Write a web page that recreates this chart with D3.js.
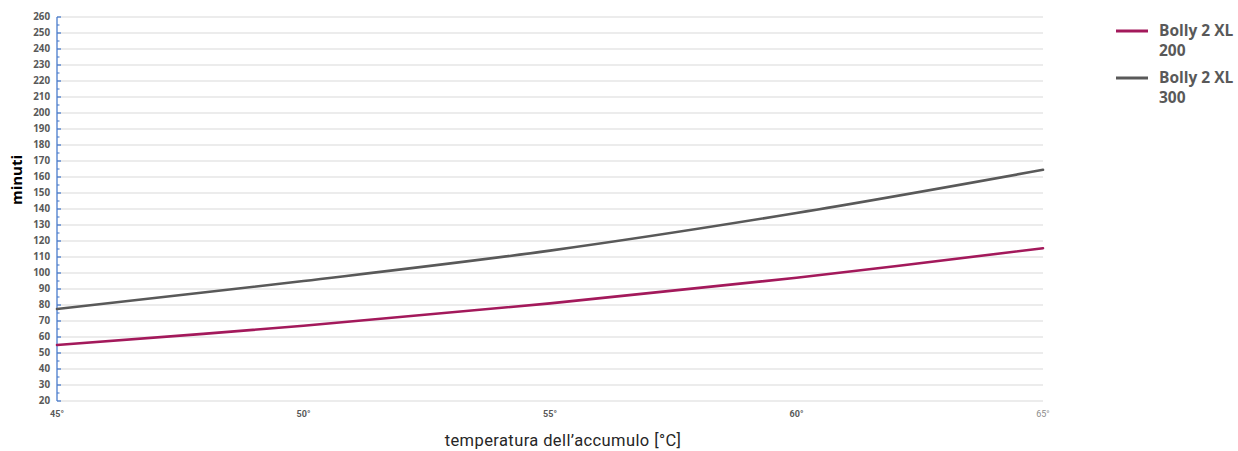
<!DOCTYPE html>
<html>
<head>
<meta charset="utf-8">
<script src="https://cdn.jsdelivr.net/npm/d3@7"></script>
<style>
  html, body { margin: 0; padding: 0; background: #fff; }
  svg { display: block; }
</style>
</head>
<body>
<div id="chart"></div>
<script>
// Tempo di riscaldamento in funzione della temperatura dell'accumulo
const temperatures = [45, 50, 55, 60, 65];
const xTickLabels = ["45°", "50°", "55°", "60°", "65°"];
const seriesNames = ["Bolly 2 XL 200", "Bolly 2 XL 300"];
const bolly200 = [55, 67, 81, 97, 115.5];
const bolly300 = [77.5, 95, 114, 137.5, 164.5];
const yTicks = d3.range(20, 261, 10);
const seriesColors = ["#a3195b", "#595959"];

const width = 1238, height = 451;
const margin = { left: 57, right: 195, top: 17, bottom: 50 };

const svg = d3.select("#chart").append("svg")
  .attr("width", width).attr("height", height);

const x = d3.scaleLinear()
  .domain([45, 65])
  .range([margin.left, width - margin.right]);

const y = d3.scaleLinear()
  .domain([20, 260])
  .range([height - margin.bottom, margin.top]);

// horizontal gridlines
svg.append("g")
  .selectAll("line")
  .data(yTicks)
  .join("line")
  .attr("x1", x(45)).attr("x2", x(65))
  .attr("y1", d => y(d)).attr("y2", d => y(d))
  .attr("stroke", "#d9d9d9").attr("stroke-width", 1);

// y axis: blue line with major and minor ticks pointing inward
const yAxisG = svg.append("g").attr("transform", `translate(${x(45)},0)`);
yAxisG.append("line")
  .attr("x1", 0).attr("x2", 0)
  .attr("y1", y(260)).attr("y2", y(20))
  .attr("stroke", "#4a7ccc").attr("stroke-width", 1.3);
yAxisG.selectAll("line.major")
  .data(yTicks)
  .join("line").attr("class", "major")
  .attr("x1", 0).attr("x2", 4)
  .attr("y1", d => y(d)).attr("y2", d => y(d))
  .attr("stroke", "#4a7ccc").attr("stroke-width", 1.3);
yAxisG.selectAll("line.minor")
  .data(d3.range(25, 260, 10))
  .join("line").attr("class", "minor")
  .attr("x1", 0).attr("x2", 2.5)
  .attr("y1", d => y(d)).attr("y2", d => y(d))
  .attr("stroke", "#4a7ccc").attr("stroke-width", 1.1);

yAxisG.selectAll("text")
  .data(yTicks)
  .join("text")
  .attr("x", -7)
  .attr("y", d => y(d))
  .attr("dy", "0.35em")
  .attr("text-anchor", "end")
  .attr("font-family", "'Open Sans', 'Liberation Sans', sans-serif")
  .attr("font-weight", "bold")
  .attr("font-size", "9.8px")
  .attr("fill", "#595959")
  .text(d => d);

// x tick labels
svg.append("g")
  .selectAll("text")
  .data(temperatures)
  .join("text")
  .attr("x", d => x(d))
  .attr("y", y(20) + 16)
  .attr("text-anchor", "middle")
  .attr("font-family", "'Roboto', 'Liberation Sans', sans-serif")
  .attr("font-weight", (d, i) => i === temperatures.length - 1 ? "normal" : "bold")
  .attr("font-size", "9px")
  .attr("fill", (d, i) => i === temperatures.length - 1 ? "#8c8c8c" : "#595959")
  .text((d, i) => xTickLabels[i]);

// axis titles
svg.append("text")
  .attr("x", 563)
  .attr("y", 446)
  .attr("text-anchor", "middle")
  .attr("font-family", "'Roboto', 'Liberation Sans', sans-serif")
  .attr("font-size", "16.5px")
  .attr("letter-spacing", "0.4px")
  .attr("fill", "#262626")
  .text("temperatura dell’accumulo [°C]");

svg.append("text")
  .attr("transform", `translate(22,${(y(20) + y(260)) / 2 - 29}) rotate(-90)`)
  .attr("text-anchor", "middle")
  .attr("font-family", "'Open Sans', 'Liberation Sans', sans-serif")
  .attr("font-weight", "bold")
  .attr("font-size", "15px")
  .attr("fill", "#000")
  .text("minuti");

// series lines
const line = d3.line()
  .x((d, i) => x(temperatures[i]))
  .y(d => y(d))
  .curve(d3.curveCatmullRom.alpha(0.5));

[bolly200, bolly300].forEach((vals, i) => {
  svg.append("path")
    .datum(vals)
    .attr("fill", "none")
    .attr("stroke", seriesColors[i])
    .attr("stroke-width", 2.6)
    .attr("stroke-linecap", "round")
    .attr("d", line);
});

// legend
const legend = svg.append("g").attr("transform", "translate(1116,31)");
seriesNames.forEach((name, i) => {
  const g = legend.append("g").attr("transform", `translate(0,${i * 47})`);
  g.append("line")
    .attr("x1", 0).attr("x2", 32).attr("y1", 0).attr("y2", 0)
    .attr("stroke", seriesColors[i]).attr("stroke-width", 3);
  const parts = name.split(/ (?=\d+$)/);
  const t = g.append("text")
    .attr("font-family", "'Open Sans', 'Liberation Sans', sans-serif")
    .attr("font-weight", "bold")
    .attr("font-size", "15.5px")
    .attr("fill", "#595959");
  parts.forEach((p, j) => {
    t.append("tspan").attr("x", 43).attr("y", 5 + j * 20).text(p);
  });
});
</script>
</body>
</html>
